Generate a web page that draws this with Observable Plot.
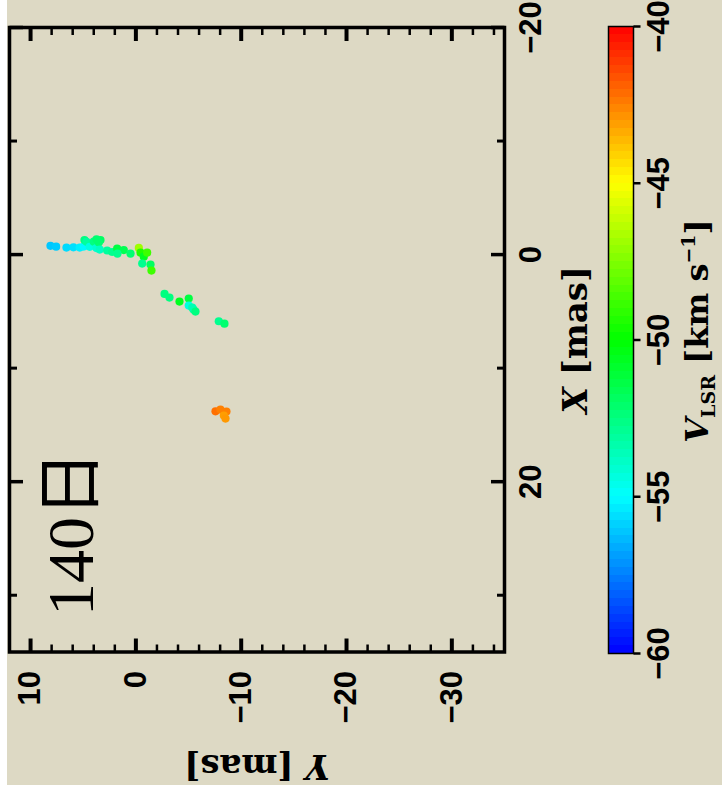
<!DOCTYPE html>
<html><head><meta charset="utf-8">
<script src="https://cdn.jsdelivr.net/npm/d3@7"></script>
<script src="https://cdn.jsdelivr.net/npm/@observablehq/plot@0.6"></script>
<style>
body{margin:0;background:#ffffff;}
#wrap{position:relative;width:722px;height:798px;overflow:hidden;}
#bg{position:absolute;left:7px;top:0;width:715px;height:785px;background:#ddd9c4;}
#main{position:absolute;left:0;top:0;}
#cbar{position:absolute;left:600px;top:0;}
</style></head><body>
<div id="wrap"><div id="bg"></div><div id="main"></div><div id="cbar"></div></div>
<script>
// maser spots: offsets in mas and LSR velocity in km/s
const offY = [8.11, 7.57, 6.59, 5.93, 5.33, 4.95, 4.88, 4.69, 4.38, 4.0, 3.74, 3.36, 3.52, 3.74, 3.43, 2.73, 2.25, 1.78, 1.15, 1.75, 0.51, -0.28, -0.44, -0.75, -1.07, -0.60, -1.39, -1.48, -2.72, -3.19, -4.14, -5.02, -5.02, -5.47, -5.35, -5.66, -7.87, -8.41, -7.56, -8.03, -8.6, -8.35, -8.51];
const offX = [-0.77, -0.70, -0.62, -0.64, -0.62, -0.71, -1.28, -1.12, -0.68, -1.14, -0.57, -1.28, -1.06, -1.35, -0.44, -0.36, -0.23, -0.53, -0.40, -0.09, -0.09, -0.59, -0.18, 0.18, -0.18, 0.79, 0.88, 1.41, 3.46, 3.79, 4.14, 3.87, 4.49, 4.84, 4.67, 5.02, 5.87, 6.08, 13.8, 13.65, 13.83, 14.18, 14.44];
const vlsr = [-56.1, -56.0, -55.7, -55.6, -55.3, -55.1, -52.5, -53.1, -54.4, -52.5, -54.1, -51.9, -52.2, -52.2, -53.8, -53.1, -52.8, -51.3, -51.6, -52.8, -52.2, -46.9, -49.4, -50.6, -48.8, -52.8, -51.9, -48.8, -52.5, -52.5, -50.6, -51.3, -54.4, -53.1, -53.5, -52.5, -52.8, -52.2, -42.2, -42.5, -42.5, -43.1, -43.0];

// axes
const yMajorTicks = [10, 0, -10, -20, -30];
const yMinorTicks = [12, 8, 6, 4, 2, -2, -4, -6, -8, -12, -14, -16, -18, -22, -24, -26, -28, -32, -34];
const xMajorTicks = [-20, 0, 20];
const xMinorTicks = [-10, 10, 30];
const xTickLabels = [-20, 0, 20];
const yTickLabels = [10, 0, -10, -20, -30];

// colour bar
const cbStops = [-60, -55, -50, -45, -40];
const cbColors = ["#0000ff", "#00ffff", "#00ff00", "#ffff00", "#ff0000"];
const cbTicks = [-60, -55, -50, -45, -40];
const dayLabel = "140日";

const spots = offY.map((y, i) => ({Y: y, X: offX[i], v: vlsr[i]}));
const fmt = d3.format("d");
const SANS = "'Liberation Sans', Arial, sans-serif";
const SERIF = "'DejaVu Serif', serif";
const tickShape = {draw(ctx, l) { ctx.moveTo(0, 0); ctx.lineTo(0, -l); }};
const colorScale = {type: "linear", domain: cbStops, range: cbColors};
const lab = {fontFamily: SANS, fontSize: 31, fontWeight: "bold", fill: "black"};

const main = Plot.plot({
  width: 722, height: 785,
  marginLeft: 9, marginTop: 27, marginRight: 218, marginBottom: 133.5,
  x: {domain: [12, -35], axis: null},
  y: {domain: [35, -20], axis: null},
  color: colorScale,
  style: {background: "transparent", overflow: "visible"},
  marks: [
    Plot.dot(spots, {x: "Y", y: "X", fill: "v", r: 4.1}),
    Plot.frame({stroke: "black", strokeWidth: 3.5}),
    // ticks on bottom / top (Y offsets)
    Plot.vector(yMajorTicks, {x: d => d, frameAnchor: "bottom", rotate: 0, length: 13.5, anchor: "start", shape: tickShape, strokeWidth: 4, strokeLinecap: "butt"}),
    Plot.vector(yMinorTicks, {x: d => d, frameAnchor: "bottom", rotate: 0, length: 7.5, anchor: "start", shape: tickShape, strokeWidth: 2.5, strokeLinecap: "butt"}),
    Plot.vector(yMajorTicks, {x: d => d, frameAnchor: "top", rotate: 180, length: 13.5, anchor: "start", shape: tickShape, strokeWidth: 4, strokeLinecap: "butt"}),
    Plot.vector(yMinorTicks, {x: d => d, frameAnchor: "top", rotate: 180, length: 7.5, anchor: "start", shape: tickShape, strokeWidth: 2.5, strokeLinecap: "butt"}),
    // ticks on left / right (X offsets)
    Plot.vector(xMajorTicks, {y: d => d, frameAnchor: "left", rotate: 90, length: 13.5, anchor: "start", shape: tickShape, strokeWidth: 3.5, strokeLinecap: "butt"}),
    Plot.vector(xMinorTicks, {y: d => d, frameAnchor: "left", rotate: 90, length: 7.5, anchor: "start", shape: tickShape, strokeWidth: 3, strokeLinecap: "butt"}),
    Plot.vector(xMajorTicks, {y: d => d, frameAnchor: "right", rotate: -90, length: 13.5, anchor: "start", shape: tickShape, strokeWidth: 3.5, strokeLinecap: "butt"}),
    Plot.vector(xMinorTicks, {y: d => d, frameAnchor: "right", rotate: -90, length: 7.5, anchor: "start", shape: tickShape, strokeWidth: 3, strokeLinecap: "butt"}),
    // tick labels
    Plot.text(yTickLabels, {x: d => d, text: d => fmt(d), frameAnchor: "bottom", dy: 19, rotate: -90, textAnchor: "end", lineAnchor: "middle", ...lab}),
    Plot.text(xTickLabels, {y: d => d, text: d => fmt(d), frameAnchor: "right", dx: 27, rotate: -90, textAnchor: "middle", lineAnchor: "middle", ...lab}),
    // axis titles
    Plot.text(["X [mas]"], {frameAnchor: "right", dx: 72, rotate: -90, textAnchor: "middle", lineAnchor: "middle", fontFamily: SERIF, fontWeight: "bold", fontSize: 34, fill: "black"}),
    Plot.text(["Y [mas]"], {frameAnchor: "bottom", dy: 114, rotate: 180, textAnchor: "middle", lineAnchor: "middle", fontFamily: SERIF, fontWeight: "bold", fontSize: 34, fill: "black"}),
    // epoch label
    Plot.text([dayLabel], {frameAnchor: "bottom-left", dx: 62, dy: -36, rotate: -90, textAnchor: "start", lineAnchor: "middle", fontFamily: "'Liberation Serif', 'Noto Sans CJK JP', serif", fontSize: 66, fill: "black"})
  ]
});
document.getElementById("main").appendChild(main);

const steps = d3.range(-60, -40, 0.25);
const cbar = Plot.plot({
  width: 122, height: 785,
  marginLeft: 8, marginRight: 89, marginTop: 26, marginBottom: 132,
  x: {domain: [0, 1], axis: null},
  y: {domain: [-60, -40], axis: null},
  color: colorScale,
  style: {background: "transparent", overflow: "visible"},
  marks: [
    Plot.rect(steps, {x1: 0, x2: 1, y1: d => d, y2: d => d + 0.25, fill: d => d + 0.125, shapeRendering: "crispEdges"}),
    Plot.frame({stroke: "black", strokeWidth: 1.5}),
    Plot.vector(cbTicks, {y: d => d, frameAnchor: "right", rotate: 90, length: 7, anchor: "start", shape: tickShape, strokeWidth: 2.5, strokeLinecap: "butt"}),
    Plot.text(cbTicks, {y: d => d, text: d => fmt(d), frameAnchor: "right", dx: 26, rotate: -90, textAnchor: "middle", lineAnchor: "middle", ...lab}),
    Plot.text(["VLSR [km s-1]"], {frameAnchor: "right", dx: 64, dy: -9, rotate: -90, textAnchor: "middle", lineAnchor: "middle", fontFamily: SERIF, fontWeight: "bold", fontSize: 32, fill: "black"})
  ]
});
document.getElementById("cbar").appendChild(cbar);

function rich(svg, key, parts) {
  for (const t of svg.querySelectorAll("text")) {
    if (t.textContent === key) {
      t.textContent = "";
      for (const p of parts) {
        const ts = document.createElementNS("http://www.w3.org/2000/svg", "tspan");
        ts.textContent = p.t;
        if (p.italic) ts.setAttribute("font-style", "italic");
        if (p.size) ts.setAttribute("font-size", p.size);
        if (p.dy) ts.setAttribute("dy", p.dy);
        t.appendChild(ts);
      }
    }
  }
}
rich(main, "X [mas]", [{t: "X", italic: true}, {t: " [mas]"}]);
rich(main, "Y [mas]", [{t: "Y", italic: true}, {t: " [mas]"}]);
rich(cbar, "VLSR [km s-1]", [
  {t: "V", italic: true},
  {t: "LSR", size: "19px", dy: "7px"},
  {t: " [km s", dy: "-7px"},
  {t: "\u22121", size: "19px", dy: "-13px"},
  {t: "]", dy: "13px"}
]);
</script>
</body></html>
